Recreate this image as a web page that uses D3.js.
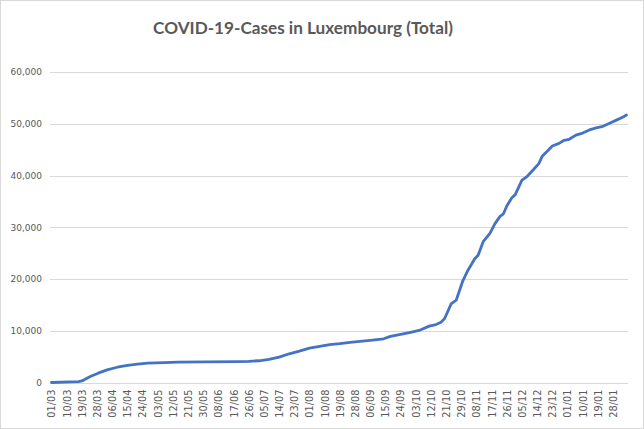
<!DOCTYPE html>
<meta charset="utf-8">
<style>
  body { margin: 0; background: #fff; }
  svg { display: block; }
</style>
<script src="https://d3js.org/d3.v7.min.js"></script>
<div id="chart"></div>
<script>
// cumulative cases
var dates = ["2020-03-01","2020-03-17","2020-03-19","2020-03-24","2020-03-29","2020-04-03","2020-04-09",
  "2020-04-15","2020-04-21","2020-04-27","2020-05-07","2020-05-15","2020-05-31","2020-06-20","2020-06-26",
  "2020-07-02","2020-07-08","2020-07-14","2020-07-20","2020-07-26","2020-08-01","2020-08-07","2020-08-13",
  "2020-08-19","2020-08-25","2020-08-31","2020-09-06","2020-09-14","2020-09-18","2020-09-24","2020-09-30",
  "2020-10-05","2020-10-11","2020-10-15","2020-10-18","2020-10-20","2020-10-21","2020-10-24","2020-10-27",
  "2020-10-31","2020-11-03","2020-11-07","2020-11-09","2020-11-12","2020-11-16","2020-11-19","2020-11-22",
  "2020-11-24","2020-11-26","2020-11-29","2020-12-01","2020-12-05","2020-12-08","2020-12-12","2020-12-15",
  "2020-12-17","2020-12-20","2020-12-23","2020-12-27","2020-12-30","2021-01-02","2021-01-06","2021-01-10",
  "2021-01-14","2021-01-18","2021-01-22","2021-01-26","2021-01-30","2021-02-03","2021-02-05"];
var cases = [0,150,300,1150,1850,2450,2950,
  3300,3550,3750,3850,3950,4000,4050,4100,
  4200,4450,4900,5550,6050,6650,7000,7300,
  7500,7750,7950,8150,8450,8900,9300,9700,
  10050,10900,11200,11650,12300,13000,15200,15900,
  19700,21700,23900,24600,27200,28800,30700,32100,
  32600,34100,35700,36300,39100,39800,41200,42300,
  43700,44700,45700,46200,46800,47000,47800,48200,
  48800,49200,49500,50100,50700,51300,51700];

var tickDates = ["2020-03-01","2020-03-10","2020-03-19","2020-03-28","2020-04-06","2020-04-15","2020-04-24",
  "2020-05-03","2020-05-12","2020-05-21","2020-05-30","2020-06-08","2020-06-17","2020-06-26","2020-07-05",
  "2020-07-14","2020-07-23","2020-08-01","2020-08-10","2020-08-19","2020-08-28","2020-09-06","2020-09-15",
  "2020-09-24","2020-10-03","2020-10-12","2020-10-21","2020-10-30","2020-11-08","2020-11-17","2020-11-26",
  "2020-12-05","2020-12-14","2020-12-23","2021-01-01","2021-01-10","2021-01-19","2021-01-28"];
var tickLabels = ["01/03","10/03","19/03","28/03","06/04","15/04","24/04",
  "03/05","12/05","21/05","30/05","08/06","17/06","26/06","05/07",
  "14/07","23/07","01/08","10/08","19/08","28/08","06/09","15/09",
  "24/09","03/10","12/10","21/10","29/10","08/11","17/11","26/11",
  "05/12","14/12","23/12","01/01","10/01","19/01","28/01"];
var yTicks = [0, 10000, 20000, 30000, 40000, 50000, 60000];

var W = 644, H = 429;
var parse = d3.timeParse("%Y-%m-%d");
var data = dates.map(function(d, i) { return {date: parse(d), value: cases[i]}; });

var svg = d3.select("#chart").append("svg")
  .attr("width", W).attr("height", H);

// chart area frame
svg.append("rect")
  .attr("x", 0.5).attr("y", 0.5)
  .attr("width", W - 1).attr("height", H - 1)
  .attr("fill", "#fff").attr("stroke", "#d9d9d9");

var title = svg.append("text")
  .attr("x", 303).attr("y", 34)
  .attr("text-anchor", "middle")
  .attr("font-family", "Lato, 'Open Sans', sans-serif")
  .attr("font-weight", "bold")
  .attr("font-size", 18)
  .attr("fill", "#595959")
  .text("COVID-19-Cases in Luxembourg (Total)");
// squeeze to the reference width
var tw = title.node().getComputedTextLength();
title.attr("font-size", 18 * 300 / tw);

var plotLeft = 50, plotRight = 628, plotTop = 72, plotBottom = 382.5;

var x = d3.scaleTime()
  .domain([parse(dates[0]), parse(dates[dates.length - 1])])
  .range([plotLeft + 1.5, plotRight - 1.5]);
var y = d3.scaleLinear()
  .domain([0, 60000])
  .range([plotBottom, plotTop]);

// gridlines
svg.append("g")
  .selectAll("line")
  .data(yTicks)
  .enter().append("line")
    .attr("x1", plotLeft).attr("x2", plotRight)
    .attr("y1", function(d) { return Math.round(y(d)) + 0.5; })
    .attr("y2", function(d) { return Math.round(y(d)) + 0.5; })
    .attr("stroke", "#d9d9d9");

// y axis labels
var yAxis = svg.append("g")
  .attr("transform", "translate(" + (plotLeft - 8) + ",0)")
  .call(d3.axisLeft(y).tickValues(yTicks).tickSize(0).tickPadding(0).tickFormat(d3.format(",")));
yAxis.select(".domain").remove();
yAxis.selectAll("text")
  .attr("font-family", "'DejaVu Sans', Verdana, sans-serif")
  .attr("font-size", 9)
  .attr("fill", "#595959");

// x axis labels
var xAxis = svg.append("g")
  .attr("transform", "translate(0," + plotBottom + ")")
  .call(d3.axisBottom(x)
    .tickValues(tickDates.map(parse))
    .tickSize(0)
    .tickFormat(function(d, i) { return tickLabels[i]; }));
xAxis.select(".domain").remove();
xAxis.selectAll("text")
  .attr("font-family", "'DejaVu Sans', Verdana, sans-serif")
  .attr("font-size", 9.8)
  .attr("fill", "#595959")
  .attr("text-anchor", "end")
  .attr("dy", "0.35em")
  .attr("transform", "translate(0,7) rotate(-90)")
  .attr("x", 0).attr("y", 0);

// line
var line = d3.line()
  .x(function(d) { return x(d.date); })
  .y(function(d) { return y(d.value); });

svg.append("path")
  .datum(data)
  .attr("fill", "none")
  .attr("stroke", "#4472c4")
  .attr("stroke-width", 2.8)
  .attr("stroke-linejoin", "round")
  .attr("stroke-linecap", "round")
  .attr("d", line);
</script>
